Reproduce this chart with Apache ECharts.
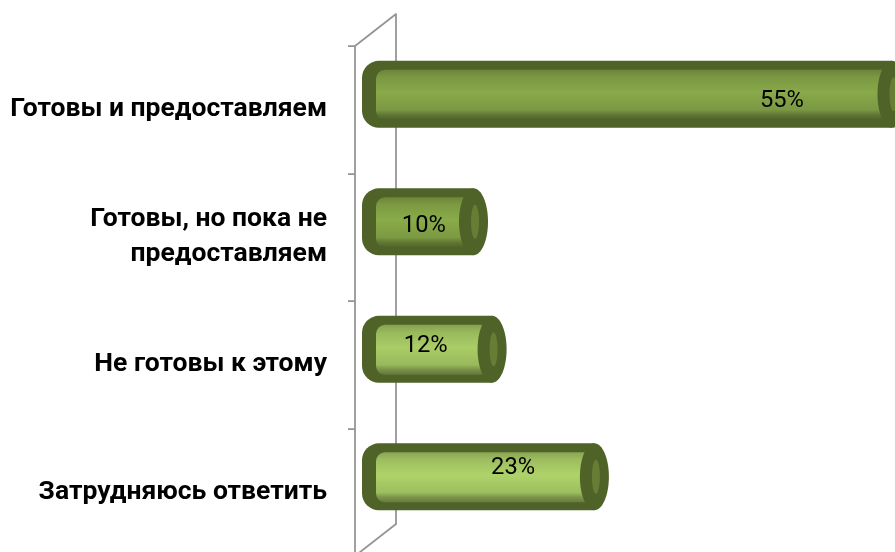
<!DOCTYPE html>
<html><head><meta charset="utf-8">
<script src="https://cdn.jsdelivr.net/npm/echarts@6/dist/echarts.min.js"></script>
<style>html,body{margin:0;padding:0;background:#fff}#c{width:895px;height:552px}</style>
</head><body><div id="c"></div>
<script>
// ---- data ----
const categories = ['Готовы и предоставляем', 'Готовы, но пока не\nпредоставляем', 'Не готовы к этому', 'Затрудняюсь ответить'];
const values = [55, 10, 12, 23];
const valueLabels = ['55%', '10%', '12%', '23%'];

// ---- style (per bar) ----
const barTones = ['#89a94a', '#8aab49', '#aacd66', '#afd36a'];
const labelAt = [41.6, 3.1, 3.3, 12.7];   // label centre, in axis units
const labelDy = [7, 4.5, -3, -8.5];

const FONT = 'Roboto, "Liberation Sans", sans-serif';
function fitSize(text, weight, target) {
  const ctx = document.createElement('canvas').getContext('2d');
  ctx.font = weight + ' 100px ' + FONT;
  return Math.round(100 * target / ctx.measureText(text).width * 10) / 10;
}
const catSize = fitSize('Готовы и предоставляем', 'bold', 317);
const valSize = fitSize('55%', 'normal', 44);

function shade(hex, f) {
  const n = parseInt(hex.slice(1), 16);
  let r = n >> 16, g = (n >> 8) & 255, b = n & 255;
  const t = f < 0 ? 0 : 255, p = Math.abs(f);
  r = Math.round((t - r) * p + r); g = Math.round((t - g) * p + g); b = Math.round((t - b) * p + b);
  return 'rgb(' + r + ',' + g + ',' + b + ')';
}

const FRONT = {left: 355, top: 46, height: 510};
const BACK = {left: 395, top: 14, height: 510, width: 558};
const axisColor = '#939393';

function renderItem(params, api) {
  const i = params.dataIndex;
  const cat = api.value(1);
  const p0 = api.coord([0, cat]);
  const p1 = api.coord([api.value(0), cat]);
  const h = 67, yc = p0[1] + 16.6, x0 = p0[0] - 33, x1 = p1[0];
  const top = yc - h / 2;
  const crx = 14.5;
  const dark = '#4f6228';
  const tone = barTones[i];
  const grad = new echarts.graphic.LinearGradient(0, 0, 0, 1, [
    {offset: 0, color: shade(tone, -0.22)},
    {offset: 0.15, color: shade(tone, -0.1)},
    {offset: 0.45, color: tone},
    {offset: 0.8, color: shade(tone, -0.1)},
    {offset: 0.9, color: shade(tone, -0.3)},
    {offset: 1, color: shade(tone, -0.42)}
  ]);
  const lx = api.coord([labelAt[i], cat])[0];
  return {
    type: 'group',
    children: [
      {type: 'rect', shape: {x: x0, y: top, width: x1 - crx - x0, height: h, r: [17, 0, 0, 17]}, style: {fill: dark}},
      {type: 'rect', shape: {x: x0 + 14, y: top + 9, width: x1 - crx - (x0 + 14), height: h - 17, r: [9, 0, 0, 9]}, style: {fill: grad}},
      {type: 'ellipse', shape: {cx: x1 - crx, cy: yc, rx: crx, ry: h / 2}, style: {fill: dark}},
      {type: 'ellipse', shape: {cx: x1 - 13, cy: yc, rx: 4, ry: 17}, style: {fill: '#667d36'}},
      {type: 'text', x: lx, y: yc + labelDy[i], style: {text: valueLabels[i], fill: '#000', fontSize: valSize, fontFamily: FONT, align: 'center', verticalAlign: 'middle'}}
    ]
  };
}

const chart = echarts.init(document.getElementById('c'), null, {renderer: 'canvas'});
chart.setOption({
  animation: false,
  backgroundColor: '#fff',
  grid: [
    {left: FRONT.left, top: FRONT.top, height: FRONT.height, width: 400, outerBoundsMode: 'none', containLabel: false},
    {left: BACK.left, top: BACK.top, height: BACK.height, width: BACK.width, outerBoundsMode: 'none', containLabel: false}
  ],
  xAxis: [
    {gridIndex: 0, type: 'value', min: 0, max: 60, show: false},
    {gridIndex: 1, type: 'value', min: 0, max: 60, show: false}
  ],
  yAxis: [
    {
      gridIndex: 0, type: 'category', inverse: true, data: categories,
      axisLine: {show: true, lineStyle: {color: axisColor, width: 1.75}},
      axisTick: {show: true, length: 7, lineStyle: {color: axisColor, width: 1.75}},
      axisLabel: {margin: 28, fontWeight: 'bold', fontSize: catSize, color: '#000', lineHeight: 35, fontFamily: FONT, align: 'right'},
      splitLine: {show: false}
    },
    {
      gridIndex: 1, type: 'category', inverse: true, data: categories, offset: -1,
      axisLine: {show: true, lineStyle: {color: axisColor, width: 1.75}},
      axisTick: {show: false}, axisLabel: {show: false}, splitLine: {show: false}
    }
  ],
  graphic: [
    {type: 'line', shape: {x1: FRONT.left, y1: FRONT.top, x2: BACK.left + 1, y2: BACK.top}, style: {stroke: axisColor, lineWidth: 1.75}},
    {type: 'line', shape: {x1: BACK.left + 1, y1: BACK.top + BACK.height, x2: FRONT.left, y2: FRONT.top + FRONT.height}, style: {stroke: axisColor, lineWidth: 1.75}}
  ],
  series: [{
    type: 'custom', xAxisIndex: 1, yAxisIndex: 1, clip: false,
    data: values.map((v, i) => [v, i]),
    renderItem: renderItem
  }]
});
</script>
</body></html>
